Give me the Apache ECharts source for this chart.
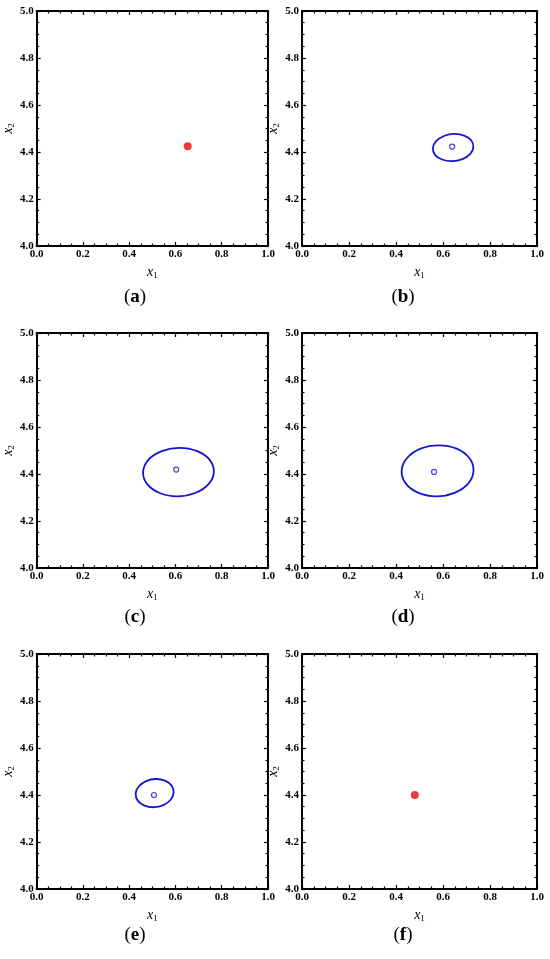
<!DOCTYPE html>
<html>
<head>
<meta charset="utf-8">
<script src="https://cdn.jsdelivr.net/npm/echarts@6/dist/echarts.min.js"></script>
<style>
  html, body { margin: 0; padding: 0; background: #fff; }
  #main { width: 550px; height: 959px; }
</style>
</head>
<body>
<div id="main"></div>
<script>
// panel tags and axis ranges
const panelTags = ['a', 'b', 'c', 'd', 'e', 'f'];
const xRange = [0, 1, 0.2];
const yRange = [4, 5, 0.2];

// red points (panels a, f)
const dotA = [0.653, 4.424];
const dotF = [0.480, 4.400];

// small hollow centres
const centreB = [0.639, 4.423];
const centreC = [0.603, 4.419];
const centreD = [0.562, 4.409];
const centreE = [0.507, 4.400];

// contour (b)
const curveBx = [0.729, 0.720, 0.690, 0.647, 0.604, 0.571, 0.557, 0.566, 0.596, 0.639, 0.683, 0.716];
const curveBy = [4.421, 4.450, 4.470, 4.477, 4.468, 4.446, 4.417, 4.388, 4.368, 4.361, 4.370, 4.392];

// contour (c)
const curveCx = [0.766, 0.748, 0.694, 0.618, 0.541, 0.483, 0.460, 0.478, 0.532, 0.608, 0.685, 0.743];
const curveCy = [4.408, 4.460, 4.497, 4.511, 4.497, 4.460, 4.408, 4.357, 4.319, 4.305, 4.319, 4.357];

// contour (d)
const curveDx = [0.730, 0.712, 0.658, 0.582, 0.505, 0.447, 0.424, 0.442, 0.496, 0.572, 0.649, 0.707];
const curveDy = [4.414, 4.468, 4.508, 4.522, 4.508, 4.468, 4.414, 4.359, 4.320, 4.305, 4.320, 4.359];

// contour (e)
const curveEx = [0.592, 0.583, 0.555, 0.514, 0.473, 0.441, 0.428, 0.437, 0.466, 0.506, 0.548, 0.579];
const curveEy = [4.410, 4.440, 4.461, 4.468, 4.459, 4.436, 4.406, 4.376, 4.355, 4.348, 4.357, 4.380];

const blue = '#1515d2';
const red = '#e80a0a';
const serif = 'Liberation Serif';

const gridLefts = [33, 302, 33, 302, 33, 302];
const gridTops = [11, 11, 333, 333, 654, 654];
const gridSize = 235;

const chart = echarts.init(document.getElementById('main'));

function axisBase(gi, range) {
  return {
    type: 'value',
    gridIndex: gi,
    min: range[0],
    max: range[1],
    interval: range[2],
    splitLine: { show: false },
    axisLine: { show: true, onZero: false, lineStyle: { color: '#000', width: 2 } },
    axisTick: { show: true, inside: true, length: 4, lineStyle: { color: '#000', width: 1.2 } },
    minorTick: { show: true, splitNumber: 4, length: 2.5, lineStyle: { color: '#000', width: 1.2 } },
    axisLabel: { show: false }
  };
}

const labelStyle = {
  show: true,
  margin: 3,
  fontFamily: serif,
  fontWeight: 'bold',
  fontSize: 11,
  color: '#000',
  showMinLabel: true,
  showMaxLabel: true,
  hideOverlap: false,
  formatter: (v) => v.toFixed(1)
};

const nameRich = {
  i: { fontFamily: serif, fontStyle: 'italic', fontSize: 14, color: '#000', lineHeight: 16 },
  s: { fontFamily: serif, fontSize: 9, color: '#000', verticalAlign: 'bottom', lineHeight: 10 }
};

const grids = [], xAxes = [], yAxes = [];
panelTags.forEach((tag, gi) => {
  grids.push({ left: gridLefts[gi], top: gridTops[gi], width: gridSize, height: gridSize });

  const xb = axisBase(gi, xRange);
  xb.position = 'bottom';
  xb.axisLabel = labelStyle;
  xb.name = '{i|x}{s|1}';
  xb.nameLocation = 'middle';
  xb.nameGap = 18;
  xb.nameTextStyle = { rich: nameRich };
  const xt = axisBase(gi, xRange);
  xt.position = 'top';
  xAxes.push(xb, xt);

  const yl = axisBase(gi, yRange);
  yl.position = 'left';
  yl.axisLabel = labelStyle;
  yl.name = '{i|x}{s|2}';
  yl.nameLocation = 'middle';
  yl.nameRotate = 90;
  yl.nameGap = 20;
  yl.nameTextStyle = { rich: nameRich };
  const yr = axisBase(gi, yRange);
  yr.position = 'right';
  yAxes.push(yl, yr);
});

function onGrid(gi, s) {
  s.xAxisIndex = 2 * gi;
  s.yAxisIndex = 2 * gi;
  s.animation = false;
  return s;
}

function redDot(gi, p) {
  return onGrid(gi, {
    type: 'scatter', data: [p], symbol: 'circle', symbolSize: 8,
    itemStyle: { color: red }
  });
}

function hollow(gi, p) {
  return onGrid(gi, {
    type: 'scatter', data: [p], symbol: 'circle', symbolSize: 5, z: 5,
    itemStyle: { color: '#fff', borderColor: blue, borderWidth: 1.2 }
  });
}

// closed smooth curve through the read points (Catmull-Rom -> cubic Bezier)
function contour(gi, xs, ys) {
  return onGrid(gi, {
    type: 'custom',
    data: xs.map((x, k) => [x, ys[k]]),
    renderItem: (params, api) => {
      if (params.dataIndex !== 0) return null;
      const pts = xs.map((x, k) => api.coord([x, ys[k]]));
      const n = pts.length;
      let d = 'M' + pts[0][0] + ' ' + pts[0][1];
      for (let k = 0; k < n; k++) {
        const p0 = pts[(k - 1 + n) % n], p1 = pts[k];
        const p2 = pts[(k + 1) % n], p3 = pts[(k + 2) % n];
        const c1 = [p1[0] + (p2[0] - p0[0]) / 6, p1[1] + (p2[1] - p0[1]) / 6];
        const c2 = [p2[0] - (p3[0] - p1[0]) / 6, p2[1] - (p3[1] - p1[1]) / 6];
        d += ' C' + c1[0] + ' ' + c1[1] + ' ' + c2[0] + ' ' + c2[1] + ' ' + p2[0] + ' ' + p2[1];
      }
      d += ' Z';
      return {
        type: 'path',
        shape: { pathData: d },
        style: { fill: 'none', stroke: blue, lineWidth: 1.8 }
      };
    }
  });
}

const series = [
  redDot(0, dotA),
  contour(1, curveBx, curveBy), hollow(1, centreB),
  contour(2, curveCx, curveCy), hollow(2, centreC),
  contour(3, curveDx, curveDy), hollow(3, centreD),
  contour(4, curveEx, curveEy), hollow(4, centreE),
  redDot(5, dotF)
];

// sub-figure captions
const tagX = [135, 403, 135, 403, 135, 403];
const tagY = [297, 297, 617, 617, 935, 935];
const graphics = panelTags.map((tag, gi) => ({
  type: 'text',
  x: tagX[gi],
  y: tagY[gi],
  style: {
    text: '(' + '{b|' + tag + '})',
    align: 'center',
    verticalAlign: 'middle',
    fontFamily: serif,
    fontSize: 19,
    fill: '#000',
    rich: { b: { fontFamily: serif, fontSize: 19, fontWeight: 'bold', fill: '#000' } }
  }
}));

chart.setOption({
  animation: false,
  backgroundColor: '#fff',
  grid: grids,
  xAxis: xAxes,
  yAxis: yAxes,
  series: series,
  graphic: graphics
});
</script>
</body>
</html>
